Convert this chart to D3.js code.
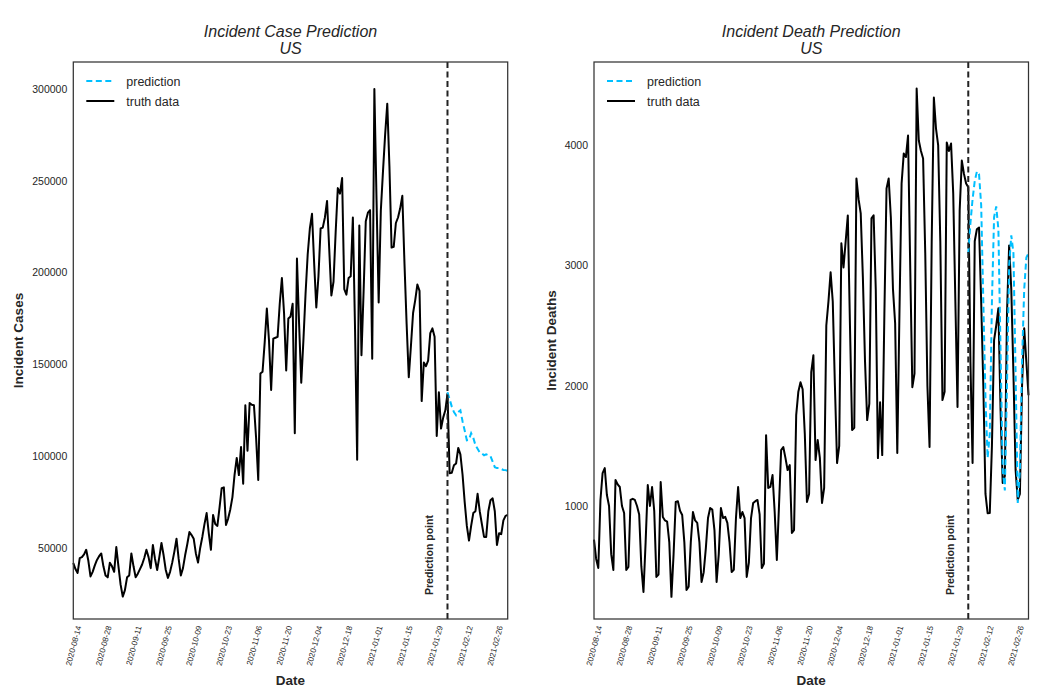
<!DOCTYPE html>
<html>
<head>
<meta charset="utf-8">
<script src="https://cdn.jsdelivr.net/npm/d3@7"></script>
<style>
  body { margin: 0; background: #fff; }
  text { font-family: "Liberation Sans", Arial, sans-serif; fill: #262626; }
</style>
</head>
<body>
<div id="chart"></div>
<script>
// daily truth data start at 2020-08-14, one value per day
var startDate = "2020-08-14";
var predictionDate = "2021-02-04";

var tickLabels = ["2020-08-14", "2020-08-28", "2020-09-11", "2020-09-25", "2020-10-09",
  "2020-10-23", "2020-11-06", "2020-11-20", "2020-12-04", "2020-12-18", "2021-01-01",
  "2021-01-15", "2021-01-29", "2021-02-12", "2021-02-26"];

var caseTicks = [50000, 100000, 150000, 200000, 250000, 300000];
var deathTicks = [1000, 2000, 3000, 4000];

var truthCases = [
  41800, 38500, 36400, 44500, 45000, 46500, 49000, 43000, 34500, 37000, 40500, 43500, 45500, 47000,
  40000, 35000, 34000, 42000, 40000, 37000, 50500, 40000, 30000, 23500, 27000, 34000, 35000, 47000,
  40000, 34000, 36000, 38500, 41000, 44500, 49000, 45000, 39000, 51600, 44000, 38000, 45000, 52700,
  46000, 38000, 33700, 37000, 42000, 48000, 55000, 44000, 35000, 39000, 46000, 52000, 58700, 57000,
  55000, 47000, 42000, 50000, 56000, 63000, 69000, 58000, 49000, 68000, 63000, 62000, 72000, 82600,
  83000, 62500, 66000, 71000, 77700, 90000, 99000, 89700, 105000, 85000, 127700, 103000, 129000, 128000,
  127700, 110000, 87000, 145000, 146000, 162000, 180400, 163000, 136000, 164000, 164500, 165000, 183000, 197000,
  178000, 146700, 175000, 176000, 183000, 112500, 207600, 172000, 140000, 163000, 188500, 210000, 224000, 232000,
  205000, 181000, 198000, 224000, 224500, 230000, 239000, 213000, 187500, 195000, 222000, 246000, 243000, 251500,
  191000, 188000, 197000, 198000, 230000, 170000, 98000, 225600, 155000, 190000, 228000, 232600, 234000, 153000,
  300000, 240000, 183700, 233700, 255000, 275000, 292000, 258000, 213600, 214000, 227000, 230000, 235000, 241800,
  205000, 172000, 143000, 160000, 178000, 185000, 193500, 190000, 130000, 151000, 149000, 152000, 167000, 169600,
  165000, 111000, 134800, 115000, 121000, 125000, 134000, 90700, 91000, 95000, 96000, 104500, 101000, 90000,
  75000, 62000, 54000, 62000, 69000, 70000, 79500, 70000, 63000, 56000, 56000, 70000, 76000, 77000,
  70000, 51600, 58000, 57500, 65000, 67500, 68000
];

// forecast from the prediction date on, one value per day
var predCases = [
  134800, 131000, 127000, 124000, 122300, 124000, 125000, 119000, 114000, 108700, 109000, 112500, 110000, 106000,
  104000, 102000, 101500, 100500, 101000, 100500, 100000, 97000, 94000, 93500, 93500, 93000, 92500, 92400, 92000
];

var truthDeaths = [
  720, 560, 485, 1050, 1274, 1315, 1091, 1000, 600, 469, 1216, 1180, 1158, 1000,
  942, 469, 494, 1050, 1060, 1050, 1000, 930, 500, 286, 700, 1174, 1000, 1158,
  960, 411, 430, 1199, 909, 880, 870, 700, 245, 600, 1033, 1040, 960, 925,
  700, 303, 330, 700, 950, 880, 860, 700, 369, 450, 650, 900, 983, 970,
  800, 369, 600, 983, 900, 910, 860, 700, 452, 470, 900, 1158, 900, 950,
  900, 411, 530, 900, 1025, 1040, 1050, 930, 485, 520, 1589, 1150, 1160, 1257,
  950, 552, 1000, 1465, 1490, 1400, 1299, 1340, 776, 800, 1755, 1950, 2029, 1970,
  1600, 1033, 1100, 2112, 2253, 1382, 1548, 1400, 1025, 1150, 2500, 2700, 2942, 2700,
  2000, 1357, 1500, 3183, 2983, 3200, 3415, 2500, 1631, 1650, 3722, 3550, 3432, 2900,
  2200, 1714, 1850, 3390, 3415, 2800, 1398, 1863, 1423, 2600, 3639, 3722, 3400, 2800,
  2519, 1440, 2600, 3680, 3929, 3900, 4079, 3000, 1988, 2100, 4469, 4037, 3950, 3888,
  3100, 2000, 1490, 3200, 4394, 4137, 4000, 3200, 1880, 1950, 4021, 3950, 4012, 3600,
  2700, 1822, 3456, 3871, 3760, 3680, 3650, 2200, 1357, 3200, 3300, 3315, 2700, 2000,
  1100, 940, 942, 1500, 2378, 2500, 2643, 1800, 1191, 1250, 2600, 3166, 2800, 2100,
  1300, 1050, 1100, 2000, 2477, 2200, 1921
];

var predDeaths = [
  3100, 3350, 3550, 3700, 3780, 3760, 3500, 2700, 1900, 1400, 1600, 2700, 3400, 3490,
  3300, 2300, 1300, 1130, 2000, 3000, 3250, 3100, 2100, 1025, 1300, 2200, 2800, 3066, 3100
];

var width = 1051, height = 696;
var parseDate = d3.timeParse("%Y-%m-%d");
var start = parseDate(startDate);
var predStart = parseDate(predictionDate);

var svg = d3.select("#chart")
  .append("svg")
  .attr("width", width)
  .attr("height", height);

function toSeries(values, from) {
  return values.map(function(v, i) { return { date: d3.timeDay.offset(from, i), value: v }; });
}

function drawPanel(p) {
  var truth = toSeries(p.truth, start);
  var pred = toSeries(p.pred, predStart);

  var x = d3.scaleTime()
    .domain(d3.extent(truth, function(d) { return d.date; }))
    .range([p.left, p.right]);
  var y = d3.scaleLinear()
    .domain(p.yDomain)
    .range([p.bottom, p.top]);

  var g = svg.append("g");

  // y ticks (no tick marks in this style)
  var yAxis = g.append("g")
    .attr("transform", "translate(" + p.left + ",0)")
    .call(d3.axisLeft(y).tickValues(p.yTicks).tickSize(0).tickPadding(6).tickFormat(d3.format("d")));
  yAxis.select(".domain").remove();
  yAxis.selectAll("text").style("font-size", "10.5px").attr("fill", "#262626");

  var xAxis = g.append("g")
    .attr("transform", "translate(0," + p.bottom + ")")
    .call(d3.axisBottom(x).tickValues(tickLabels.map(parseDate)).tickSize(0).tickFormat(d3.timeFormat("%Y-%m-%d")));
  xAxis.select(".domain").remove();
  xAxis.selectAll("text")
    .style("font-size", "8px")
    .attr("fill", "#262626")
    .attr("text-anchor", "end")
    .attr("x", 5)
    .attr("y", 7)
    .attr("dy", "0.35em")
    .attr("transform", "rotate(-75,5,7)");

  var line = d3.line()
    .x(function(d) { return x(d.date); })
    .y(function(d) { return y(d.value); });

  g.append("path")
    .datum(truth)
    .attr("d", line)
    .attr("fill", "none")
    .attr("stroke", "#000")
    .attr("stroke-width", 2)
    .attr("stroke-linejoin", "round");

  g.append("path")
    .datum(pred)
    .attr("d", line)
    .attr("fill", "none")
    .attr("stroke", "#00bfff")
    .attr("stroke-width", 2)
    .attr("stroke-dasharray", "6,3.5");

  // prediction point marker
  var px = x(predStart);
  g.append("line")
    .attr("x1", px).attr("x2", px)
    .attr("y1", p.top).attr("y2", p.bottom)
    .attr("stroke", "#222")
    .attr("stroke-width", 2)
    .attr("stroke-dasharray", "6,3.5");

  g.append("text")
    .attr("transform", "translate(" + (px - 14) + "," + (p.bottom - 24) + ") rotate(-90)")
    .style("font-size", "10.5px")
    .style("font-weight", "bold")
    .text("Prediction point");

  // frame
  g.append("rect")
    .attr("x", p.left).attr("y", p.top)
    .attr("width", p.right - p.left).attr("height", p.bottom - p.top)
    .attr("fill", "none")
    .attr("stroke", "#333")
    .attr("stroke-width", 1.25);

  // legend
  var lg = g.append("g").attr("transform", "translate(" + (p.left + 13) + "," + (p.top + 19) + ")");
  lg.append("line").attr("x1", 0).attr("x2", 28).attr("y1", 0).attr("y2", 0)
    .attr("stroke", "#00bfff").attr("stroke-width", 2).attr("stroke-dasharray", "6,3.5");
  lg.append("text").attr("x", 40).attr("y", 4.5).style("font-size", "12.5px").text("prediction");
  lg.append("line").attr("x1", 0).attr("x2", 28).attr("y1", 20).attr("y2", 20)
    .attr("stroke", "#000").attr("stroke-width", 2);
  lg.append("text").attr("x", 40).attr("y", 24.5).style("font-size", "12.5px").text("truth data");

  // titles and axis labels
  var cx = (p.left + p.right) / 2;
  g.append("text").attr("x", cx).attr("y", 37).attr("text-anchor", "middle")
    .style("font-size", "16px").style("font-style", "italic").text(p.title);
  g.append("text").attr("x", cx).attr("y", 54).attr("text-anchor", "middle")
    .style("font-size", "16px").style("font-style", "italic").text("US");
  g.append("text").attr("x", cx).attr("y", 685).attr("text-anchor", "middle")
    .style("font-size", "13.5px").style("font-weight", "bold").text("Date");
  g.append("text")
    .attr("transform", "translate(" + p.yLabelX + "," + ((p.top + p.bottom) / 2) + ") rotate(-90)")
    .attr("text-anchor", "middle")
    .style("font-size", "13.5px").style("font-weight", "bold").text(p.yLabel);
}

drawPanel({
  left: 73.3, right: 507.7, top: 62, bottom: 619,
  truth: truthCases, pred: predCases,
  yDomain: [11300, 314700], yTicks: caseTicks,
  title: "Incident Case Prediction", yLabel: "Incident Cases", yLabelX: 23
});

drawPanel({
  left: 594, right: 1028.5, top: 62, bottom: 619,
  truth: truthDeaths, pred: predDeaths,
  yDomain: [61, 4690], yTicks: deathTicks,
  title: "Incident Death Prediction", yLabel: "Incident Deaths", yLabelX: 556
});
</script>
</body>
</html>
